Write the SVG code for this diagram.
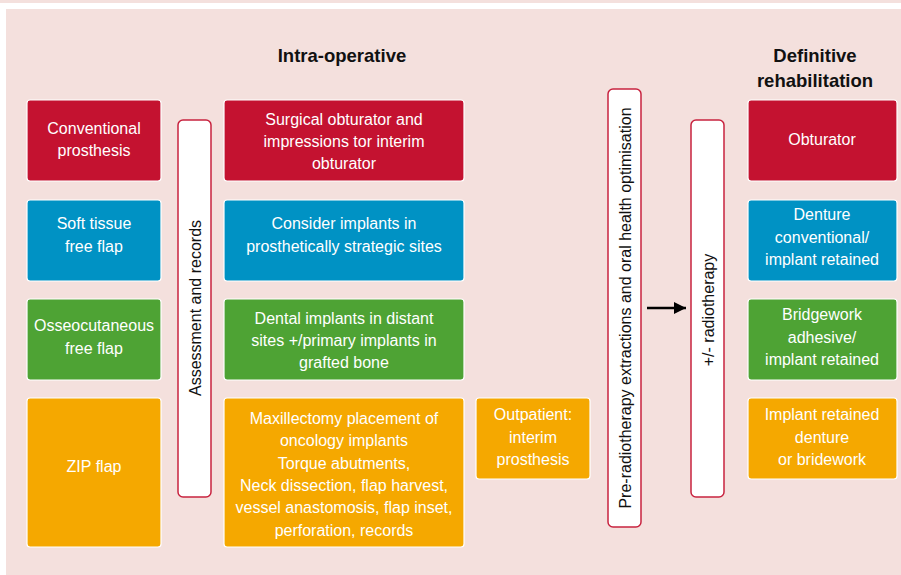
<svg xmlns="http://www.w3.org/2000/svg" width="901" height="575" viewBox="0 0 901 575">
<style>
.bg{fill:#f4e0dd}
.box{stroke:#fff;stroke-width:1.2}
.red{fill:#c41230}.blue{fill:#0092c4}.green{fill:#4ea334}.orange{fill:#f5a800}
.vbox{fill:#fff;stroke:#c8233f;stroke-width:1.5}
.t{font-family:"Liberation Sans",Arial,sans-serif;font-size:16px;fill:#fff;text-anchor:middle}
.vt{font-family:"Liberation Sans",Arial,sans-serif;font-size:16px;fill:#111;text-anchor:middle}
.h{font-family:"Liberation Sans",Arial,sans-serif;font-size:18.5px;font-weight:bold;fill:#111;text-anchor:middle}
</style>
<defs>
<marker id="ah" viewBox="0 0 10 10" refX="10" refY="5" markerWidth="5" markerHeight="5" orient="auto" markerUnits="strokeWidth"><path d="M0,0 L10,5 L0,10 z" fill="#000"/></marker>
</defs>
<rect x="0" y="0" width="901" height="575" fill="#fff"/>
<rect class="bg" x="0" y="0" width="901" height="3"/>
<rect class="bg" x="6" y="9" width="895" height="566"/>
<text class="h" x="342" y="62">Intra-operative</text>
<text class="h" x="815" y="62">Definitive</text>
<text class="h" x="815" y="87">rehabilitation</text>

<g id="conventional"><rect class="box red" x="27" y="100" width="134" height="81" rx="3"/><text class="t" x="94" y="134">Conventional</text><text class="t" x="94" y="156">prosthesis</text></g>
<g id="softtissue"><rect class="box blue" x="27" y="200" width="134" height="81" rx="3"/><text class="t" x="94" y="229">Soft tissue</text><text class="t" x="94" y="252">free flap</text></g>
<g id="osseo"><rect class="box green" x="27" y="299" width="134" height="81" rx="3"/><text class="t" x="94" y="331">Osseocutaneous</text><text class="t" x="94" y="354">free flap</text></g>
<g id="zip"><rect class="box orange" x="27" y="398" width="134" height="149" rx="3"/><text class="t" x="94" y="472">ZIP flap</text></g>

<g id="assessment"><rect class="vbox" x="178" y="120" width="33" height="377" rx="5"/><text class="vt" transform="translate(200.5,308) rotate(-90)">Assessment and records</text></g>

<g id="surgical"><rect class="box red" x="224" y="100" width="240" height="81" rx="3"/><text class="t" x="344" y="125">Surgical obturator and</text><text class="t" x="344" y="147">impressions tor interim</text><text class="t" x="344" y="169">obturator</text></g>
<g id="consider"><rect class="box blue" x="224" y="200" width="240" height="81" rx="3"/><text class="t" x="344" y="229">Consider implants in</text><text class="t" x="344" y="252">prosthetically strategic sites</text></g>
<g id="dental"><rect class="box green" x="224" y="299" width="240" height="81" rx="3"/><text class="t" x="344" y="324">Dental implants in distant</text><text class="t" x="344" y="346">sites +/primary implants in</text><text class="t" x="344" y="368">grafted bone</text></g>
<g id="maxillectomy"><rect class="box orange" x="224" y="398" width="240" height="149" rx="3"/><text class="t" x="344" y="424">Maxillectomy placement of</text><text class="t" x="344" y="446">oncology implants</text><text class="t" x="344" y="469">Torque abutments,</text><text class="t" x="344" y="491">Neck dissection, flap harvest,</text><text class="t" x="344" y="513">vessel anastomosis, flap inset,</text><text class="t" x="344" y="536">perforation, records</text></g>

<g id="outpatient"><rect class="box orange" x="476" y="398" width="114" height="81" rx="3"/><text class="t" x="533" y="420">Outpatient:</text><text class="t" x="533" y="443">interim</text><text class="t" x="533" y="465">prosthesis</text></g>

<g id="preradio"><rect class="vbox" x="608" y="89" width="33" height="438" rx="5"/><text class="vt" transform="translate(630.5,308) rotate(-90)">Pre-radiotherapy extractions and oral health optimisation</text></g>
<g id="radio"><rect class="vbox" x="691" y="120" width="33" height="377" rx="5"/><text class="vt" transform="translate(713.5,310) rotate(-90)">+/- radiotherapy</text></g>

<g id="connectors"><line x1="647" y1="308" x2="686" y2="308" stroke="#000" stroke-width="2.5" marker-end="url(#ah)"/></g>

<g id="obturator"><rect class="box red" x="748" y="100" width="149" height="81" rx="3"/><text class="t" x="822" y="145">Obturator</text></g>
<g id="denture"><rect class="box blue" x="748" y="200" width="149" height="81" rx="3"/><text class="t" x="822" y="220">Denture</text><text class="t" x="822" y="243">conventional/</text><text class="t" x="822" y="265">implant retained</text></g>
<g id="bridgework"><rect class="box green" x="748" y="299" width="149" height="81" rx="3"/><text class="t" x="822" y="320">Bridgework</text><text class="t" x="822" y="343">adhesive/</text><text class="t" x="822" y="365">implant retained</text></g>
<g id="implantretained"><rect class="box orange" x="748" y="398" width="149" height="81" rx="3"/><text class="t" x="822" y="420">Implant retained</text><text class="t" x="822" y="443">denture</text><text class="t" x="822" y="465">or bridework</text></g>
</svg>
